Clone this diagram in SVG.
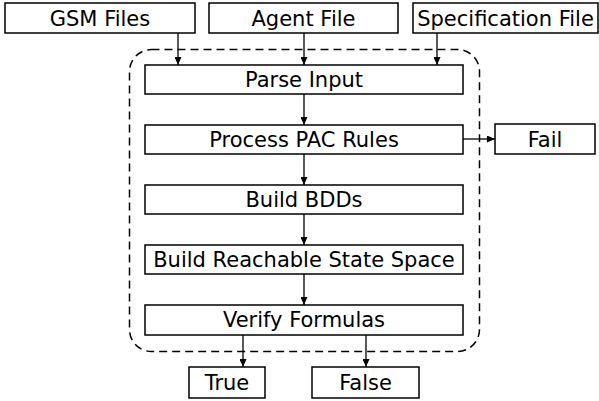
<svg xmlns="http://www.w3.org/2000/svg" width="599" height="401" viewBox="0 0 599 401">
<style>
.box{fill:#fff;stroke:#000;stroke-width:1.5}
.t{font-family:"DejaVu Sans",sans-serif;font-size:21px;text-anchor:middle;fill:#000}
.c{stroke:#000;stroke-width:1.3;fill:none;marker-end:url(#ah)}
</style>
<defs>
<marker id="ah" markerWidth="8" markerHeight="7" refX="8" refY="3.5" orient="auto" markerUnits="userSpaceOnUse">
<path d="M0,0 L8,3.5 L0,7 Z" fill="#000"/>
</marker>
</defs>
<rect x="0" y="0" width="599" height="401" fill="#fff"/>
<g id="container">
<rect x="129.5" y="49.5" width="350" height="302" rx="22" ry="22" fill="none" stroke="#000" stroke-width="1.5" stroke-dasharray="8,5"/>
</g>
<g id="connectors">
<line class="c" x1="178" y1="33" x2="178" y2="65"/>
<line class="c" x1="304" y1="33" x2="304" y2="65"/>
<line class="c" x1="437" y1="33" x2="437" y2="65"/>
<line class="c" x1="304" y1="94" x2="304" y2="125"/>
<line class="c" x1="304" y1="154" x2="304" y2="185"/>
<line class="c" x1="304" y1="214" x2="304" y2="245"/>
<line class="c" x1="304" y1="274" x2="304" y2="305"/>
<line class="c" x1="463" y1="139" x2="495" y2="139"/>
<line class="c" x1="243" y1="335" x2="243" y2="367"/>
<line class="c" x1="366" y1="335" x2="366" y2="367"/>
</g>
<g id="gsm"><rect class="box" x="5" y="3" width="190" height="30"/><text class="t" x="100" y="26">GSM Files</text></g>
<g id="agent"><rect class="box" x="209" y="3" width="189" height="30"/><text class="t" x="303.5" y="26">Agent File</text></g>
<g id="spec"><rect class="box" x="413" y="3" width="185" height="30"/><text class="t" x="505.5" y="26">Specification File</text></g>
<g id="parse"><rect class="box" x="145" y="65" width="318" height="29"/><text class="t" x="304" y="87">Parse Input</text></g>
<g id="pac"><rect class="box" x="145" y="125" width="318" height="29"/><text class="t" x="304" y="147">Process PAC Rules</text></g>
<g id="bdd"><rect class="box" x="145" y="185" width="318" height="29"/><text class="t" x="304" y="207">Build BDDs</text></g>
<g id="reach"><rect class="box" x="145" y="245" width="318" height="29"/><text class="t" x="304" y="267">Build Reachable State Space</text></g>
<g id="verify"><rect class="box" x="145" y="305" width="318" height="30"/><text class="t" x="304" y="327">Verify Formulas</text></g>
<g id="fail"><rect class="box" x="495" y="124" width="100" height="30"/><text class="t" x="545" y="147">Fail</text></g>
<g id="true"><rect class="box" x="189" y="367" width="76" height="31"/><text class="t" x="227" y="390">True</text></g>
<g id="false"><rect class="box" x="312" y="367" width="107" height="31"/><text class="t" x="365.5" y="390">False</text></g>
</svg>
